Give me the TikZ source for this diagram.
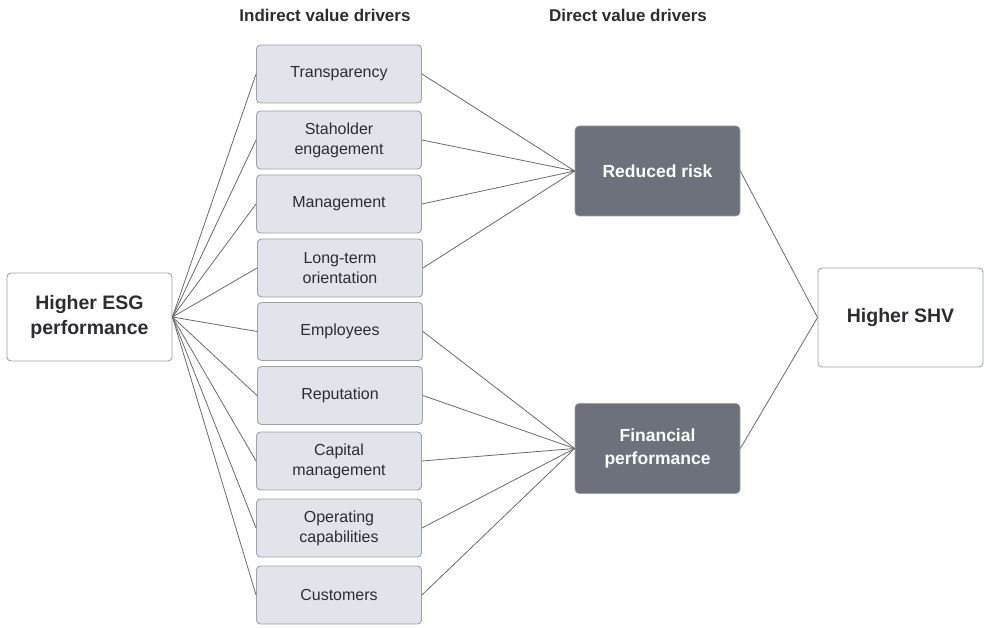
\documentclass[tikz,border=0pt]{standalone}
\usepackage{fontspec}
\setmainfont{Liberation Sans}
\definecolor{midfill}{HTML}{E1E4EA}
\definecolor{midline}{HTML}{9DA1A8}
\definecolor{darkfill}{HTML}{6C717B}
\definecolor{txt}{HTML}{2B2D31}
\definecolor{conn}{HTML}{6A6A6A}
\begin{document}
\begin{tikzpicture}[x=1pt,y=-1pt,
  midbox/.style={draw=midline,fill=midfill,line width=0.9pt,rounded corners=4pt,minimum width=165pt,minimum height=58pt,align=center,text=txt,font=\fontsize{16}{20}\selectfont,inner sep=0pt},
  darkbox/.style={draw=midline,fill=darkfill,line width=0.6pt,rounded corners=4pt,minimum width=165pt,minimum height=90pt,align=center,text=white,font=\bfseries\fontsize{17.5}{22.5}\selectfont,inner sep=0pt},
  endbox/.style={draw=midline,fill=white,line width=0.9pt,rounded corners=4pt,minimum width=165pt,align=center,text=txt,font=\bfseries\fontsize{19.5}{24.5}\selectfont,inner sep=0pt},
  head/.style={text=txt,font=\bfseries\fontsize{17}{20}\selectfont,inner sep=0pt},
  link/.style={draw=conn,line width=0.8pt}]
\useasboundingbox (0,0) rectangle (984,628);
\node[head] (h1) at (325,15) {Indirect value drivers};
\node[head] (h2) at (628,15) {Direct value drivers};
\node[endbox,minimum height=88pt] (esg) at (89.5,317) {Higher ESG\\performance};
\node[endbox,minimum height=99pt] (shv) at (900.5,317.5) {Higher SHV};
\node[darkbox] (risk) at (657.5,171) {Reduced risk};
\node[darkbox] (fin) at (657.5,448.5) {Financial\\performance};
\node[midbox] (m1) at (339,74) {Transparency};
\node[midbox] (m2) at (339,140) {Staholder\\engagement};
\node[midbox] (m3) at (339,204) {Management};
\node[midbox] (m4) at (340,268) {Long-term\\orientation};
\node[midbox] (m5) at (340,331.5) {Employees};
\node[midbox] (m6) at (340,395.5) {Reputation};
\node[midbox] (m7) at (339,461) {Capital\\management};
\node[midbox] (m8) at (339,528) {Operating\\capabilities};
\node[midbox] (m9) at (339,595) {Customers};
\foreach \m in {m1,m2,m3,m4,m5,m6,m7,m8,m9}{
  \draw[link] (esg.east) -- (\m.west);
}
\foreach \m in {m1,m2,m3,m4}{
  \draw[link] (\m.east) -- (risk.west);
}
\foreach \m in {m5,m6,m7,m8,m9}{
  \draw[link] (\m.east) -- (fin.west);
}
\draw[link] (risk.east) -- (shv.west);
\draw[link] (fin.east) -- (shv.west);
\end{tikzpicture}
\end{document}
